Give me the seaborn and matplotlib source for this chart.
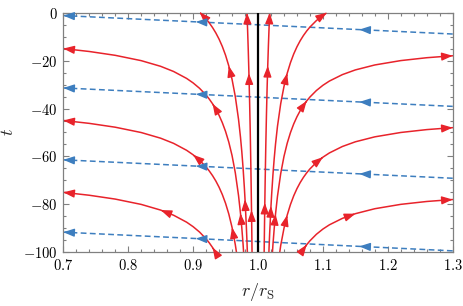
import matplotlib
matplotlib.use('Agg')
import matplotlib.pyplot as plt
import seaborn as sns
import pandas as pd
from matplotlib.ticker import MultipleLocator, FuncFormatter

# ingoing light rays (straight dashed lines), from r = 1.3 to r = 0.7
blue_r = [1.3, 0.7]
blue_t_start = [-8.9, -39.1, -69.1, -99.4]
blue_t_end = [-1.2, -31.4, -61.4, -91.6]
blue_arrow_frac = [0.24, 0.66, 1.0]

# outgoing light rays, each listed in the direction of travel
l1_r = [0.979, 0.977, 0.975, 0.973, 0.970, 0.965, 0.960, 0.955, 0.950, 0.945, 0.940, 0.935,
        0.930, 0.925, 0.920, 0.910, 0.900, 0.890, 0.870, 0.850, 0.820, 0.780, 0.740, 0.700]
l1_t = [-104.93, -96.64, -89.68, -83.74, -76.32, -66.77, -59.60, -54.02, -49.55, -45.89, -42.83, -40.24,
        -38.02, -36.09, -34.40, -31.57, -29.30, -27.43, -24.54, -22.38, -20.01, -17.79, -16.19, -14.97]

l2_r = [0.968, 0.965, 0.960, 0.955, 0.950, 0.945, 0.940, 0.935, 0.930, 0.925,
        0.920, 0.910, 0.900, 0.890, 0.870, 0.850, 0.820, 0.780, 0.740, 0.700]
l2_t = [-102.14, -96.77, -89.60, -84.02, -79.55, -75.89, -72.83, -70.24, -68.02, -66.09,
        -64.40, -61.57, -59.30, -57.43, -54.54, -52.38, -50.01, -47.79, -46.19, -44.97]

l3_r = [0.940, 0.935, 0.930, 0.925, 0.920, 0.910, 0.900, 0.890, 0.870, 0.850, 0.820, 0.780, 0.740, 0.700]
l3_t = [-102.83, -100.24, -98.02, -96.09, -94.40, -91.57, -89.30, -87.43, -84.54, -82.38, -80.01, -77.79,
        -76.19, -74.97]

la_r = [0.984, 0.983, 0.982, 0.980, 0.979, 0.977, 0.975, 0.973, 0.970, 0.965, 0.960,
        0.955, 0.950, 0.945, 0.940, 0.935, 0.930, 0.925, 0.920, 0.910, 0.905]
la_t = [-102.92, -95.56, -89.02, -77.90, -73.13, -64.84, -57.88, -51.94, -44.52, -34.97, -27.80,
        -22.22, -17.75, -14.09, -11.03, -8.44, -6.22, -4.29, -2.60, 0.23, 1.42]

lb_r = [0.991, 0.9905, 0.990, 0.989, 0.988, 0.987, 0.986, 0.985, 0.984, 0.983, 0.982]
lb_t = [-104.68, -92.98, -82.45, -64.26, -49.11, -36.28, -25.29, -15.76, -7.42, -0.06, 6.48]

r1_r = [1.021, 1.023, 1.025, 1.027, 1.030, 1.035, 1.040, 1.045, 1.050, 1.055, 1.060, 1.065,
        1.070, 1.075, 1.080, 1.090, 1.100, 1.110, 1.130, 1.150, 1.180, 1.220, 1.260, 1.300]
r1_t = [-105.14, -96.87, -89.93, -84.01, -76.62, -67.12, -60.00, -54.47, -50.05, -46.44, -43.43, -40.89,
        -38.72, -36.84, -35.20, -32.47, -30.30, -28.53, -25.84, -23.88, -21.81, -19.99, -18.79, -17.97]

r2_r = [1.030, 1.035, 1.040, 1.045, 1.050, 1.055, 1.060, 1.065, 1.070, 1.075,
        1.080, 1.090, 1.100, 1.110, 1.130, 1.150, 1.180, 1.220, 1.260, 1.300]
r2_t = [-106.62, -97.12, -90.00, -84.47, -80.05, -76.44, -73.43, -70.89, -68.72, -66.84,
        -65.20, -62.47, -60.30, -58.53, -55.84, -53.88, -51.81, -49.99, -48.79, -47.97]

r3_r = [1.060, 1.065, 1.070, 1.075, 1.080, 1.090, 1.100, 1.110, 1.130, 1.150, 1.180, 1.220, 1.260, 1.300]
r3_t = [-103.43, -100.89, -98.72, -96.84, -95.20, -92.47, -90.30, -88.53, -85.84, -83.88, -81.81, -79.99,
        -78.79, -77.97]

ra_r = [1.016, 1.017, 1.018, 1.020, 1.021, 1.023, 1.025, 1.027, 1.030, 1.035, 1.040, 1.045,
        1.050, 1.055, 1.060, 1.065, 1.070, 1.075, 1.080, 1.090, 1.100, 1.106, 1.110]
ra_t = [-105.68, -98.33, -91.80, -80.70, -75.94, -67.67, -60.73, -54.81, -47.42, -37.92, -30.80, -25.27,
        -20.85, -17.24, -14.23, -11.69, -9.52, -7.64, -6.00, -3.27, -1.10, 0.00, 0.67]

rb_r = [1.009, 1.0095, 1.010, 1.0105, 1.011, 1.012, 1.013, 1.014, 1.015, 1.016, 1.017, 1.018, 1.020]
rb_t = [-111.07, -99.38, -88.85, -79.33, -70.67, -55.53, -42.71, -31.73, -22.21, -13.88, -6.53, 0.00, 11.10]

# curve -> (r, t, indices of points carrying an arrowhead)
red_curves = {
    'L1': (l1_r, l1_t, [3, 12, 23]),
    'L2': (l2_r, l2_t, [2, 12, 19]),
    'L3': (l3_r, l3_t, [2, 9, 13]),
    'LA': (la_r, la_t, [3, 11, 19]),
    'LB': (lb_r, lb_t, [2, 6, 9]),
    'R1': (r1_r, r1_t, [3, 13, 23]),
    'R2': (r2_r, r2_t, [3, 12, 19]),
    'R3': (r3_r, r3_t, [3, 9, 13]),
    'RA': (ra_r, ra_t, [3, 11, 21]),
    'RB': (rb_r, rb_t, [3, 8, 11]),
}

RED = '#e8232b'
BLUE = '#3d7ebf'
GRAY = '#808080'

sns.set_style('ticks')
plt.rcParams['mathtext.fontset'] = 'cm'
plt.rcParams['font.family'] = ['DejaVu Serif']

red_df = pd.DataFrame([
    {'curve': k, 'i': i, 'r': r, 't': t}
    for k, (rs, ts, _) in red_curves.items()
    for i, (r, t) in enumerate(zip(rs, ts))
])
blue_df = pd.DataFrame([
    {'line': n, 'i': j, 'r': blue_r[j], 't': (t0, t1)[j]}
    for n, (t0, t1) in enumerate(zip(blue_t_start, blue_t_end))
    for j in range(2)
])

fig = plt.figure(figsize=(4.63, 3.06), dpi=100)
ax = fig.add_axes([0.1367, 0.1755, 0.8411, 0.783])

sns.lineplot(data=blue_df, x='r', y='t', units='line', estimator=None, sort=False,
             color=BLUE, lw=1.1, linestyle=(0, (3.8, 2.2)), ax=ax)
sns.lineplot(data=red_df, x='r', y='t', units='curve', estimator=None, sort=False,
             color=RED, lw=1.1, ax=ax)
ax.axvline(1.0, color='black', lw=1.6, zorder=3)


def head(p_from, p_to, color):
    # short chord ending at p_to, so only the arrowhead shows
    back = (p_to[0] - 0.2 * (p_to[0] - p_from[0]), p_to[1] - 0.2 * (p_to[1] - p_from[1]))
    ax.annotate('', xy=p_to, xytext=back, annotation_clip=False,
                arrowprops=dict(arrowstyle='-|>,head_length=0.65,head_width=0.24',
                                color=color, lw=1.0, shrinkA=0, shrinkB=0,
                                mutation_scale=10))


for rs, ts, marks in red_curves.values():
    for i in marks:
        head((rs[i - 1], ts[i - 1]), (rs[i], ts[i]), RED)

for t0, t1 in zip(blue_t_start, blue_t_end):
    for f in blue_arrow_frac:
        p = (blue_r[0] + f * (blue_r[1] - blue_r[0]), t0 + f * (t1 - t0))
        q = (blue_r[0] + (f - 0.05) * (blue_r[1] - blue_r[0]), t0 + (f - 0.05) * (t1 - t0))
        head(q, p, BLUE)

ax.set_xlim(0.7, 1.3)
ax.set_ylim(-100, 0)
ax.xaxis.set_major_locator(MultipleLocator(0.1))
ax.xaxis.set_minor_locator(MultipleLocator(0.02))
ax.yaxis.set_major_locator(MultipleLocator(20))
ax.yaxis.set_minor_locator(MultipleLocator(5))
ax.xaxis.set_major_formatter(FuncFormatter(lambda v, p: f'${v:.1f}$'))
ax.yaxis.set_major_formatter(FuncFormatter(lambda v, p: f'${int(round(v))}$'))
ax.tick_params(which='both', direction='in', top=True, right=True, color=GRAY,
               labelsize=10.5, labelcolor='black', width=0.8)
ax.tick_params(which='major', length=4.5, pad=4)
ax.tick_params(which='minor', length=2.5)
for s in ax.spines.values():
    s.set_color(GRAY)
    s.set_linewidth(0.9)

ax.set_xlabel(r'$r/r_\mathrm{S}$', fontsize=13, labelpad=6)
ax.set_ylabel(r'$t$', fontsize=13, labelpad=4)

fig.savefig('out.png', dpi=100)
